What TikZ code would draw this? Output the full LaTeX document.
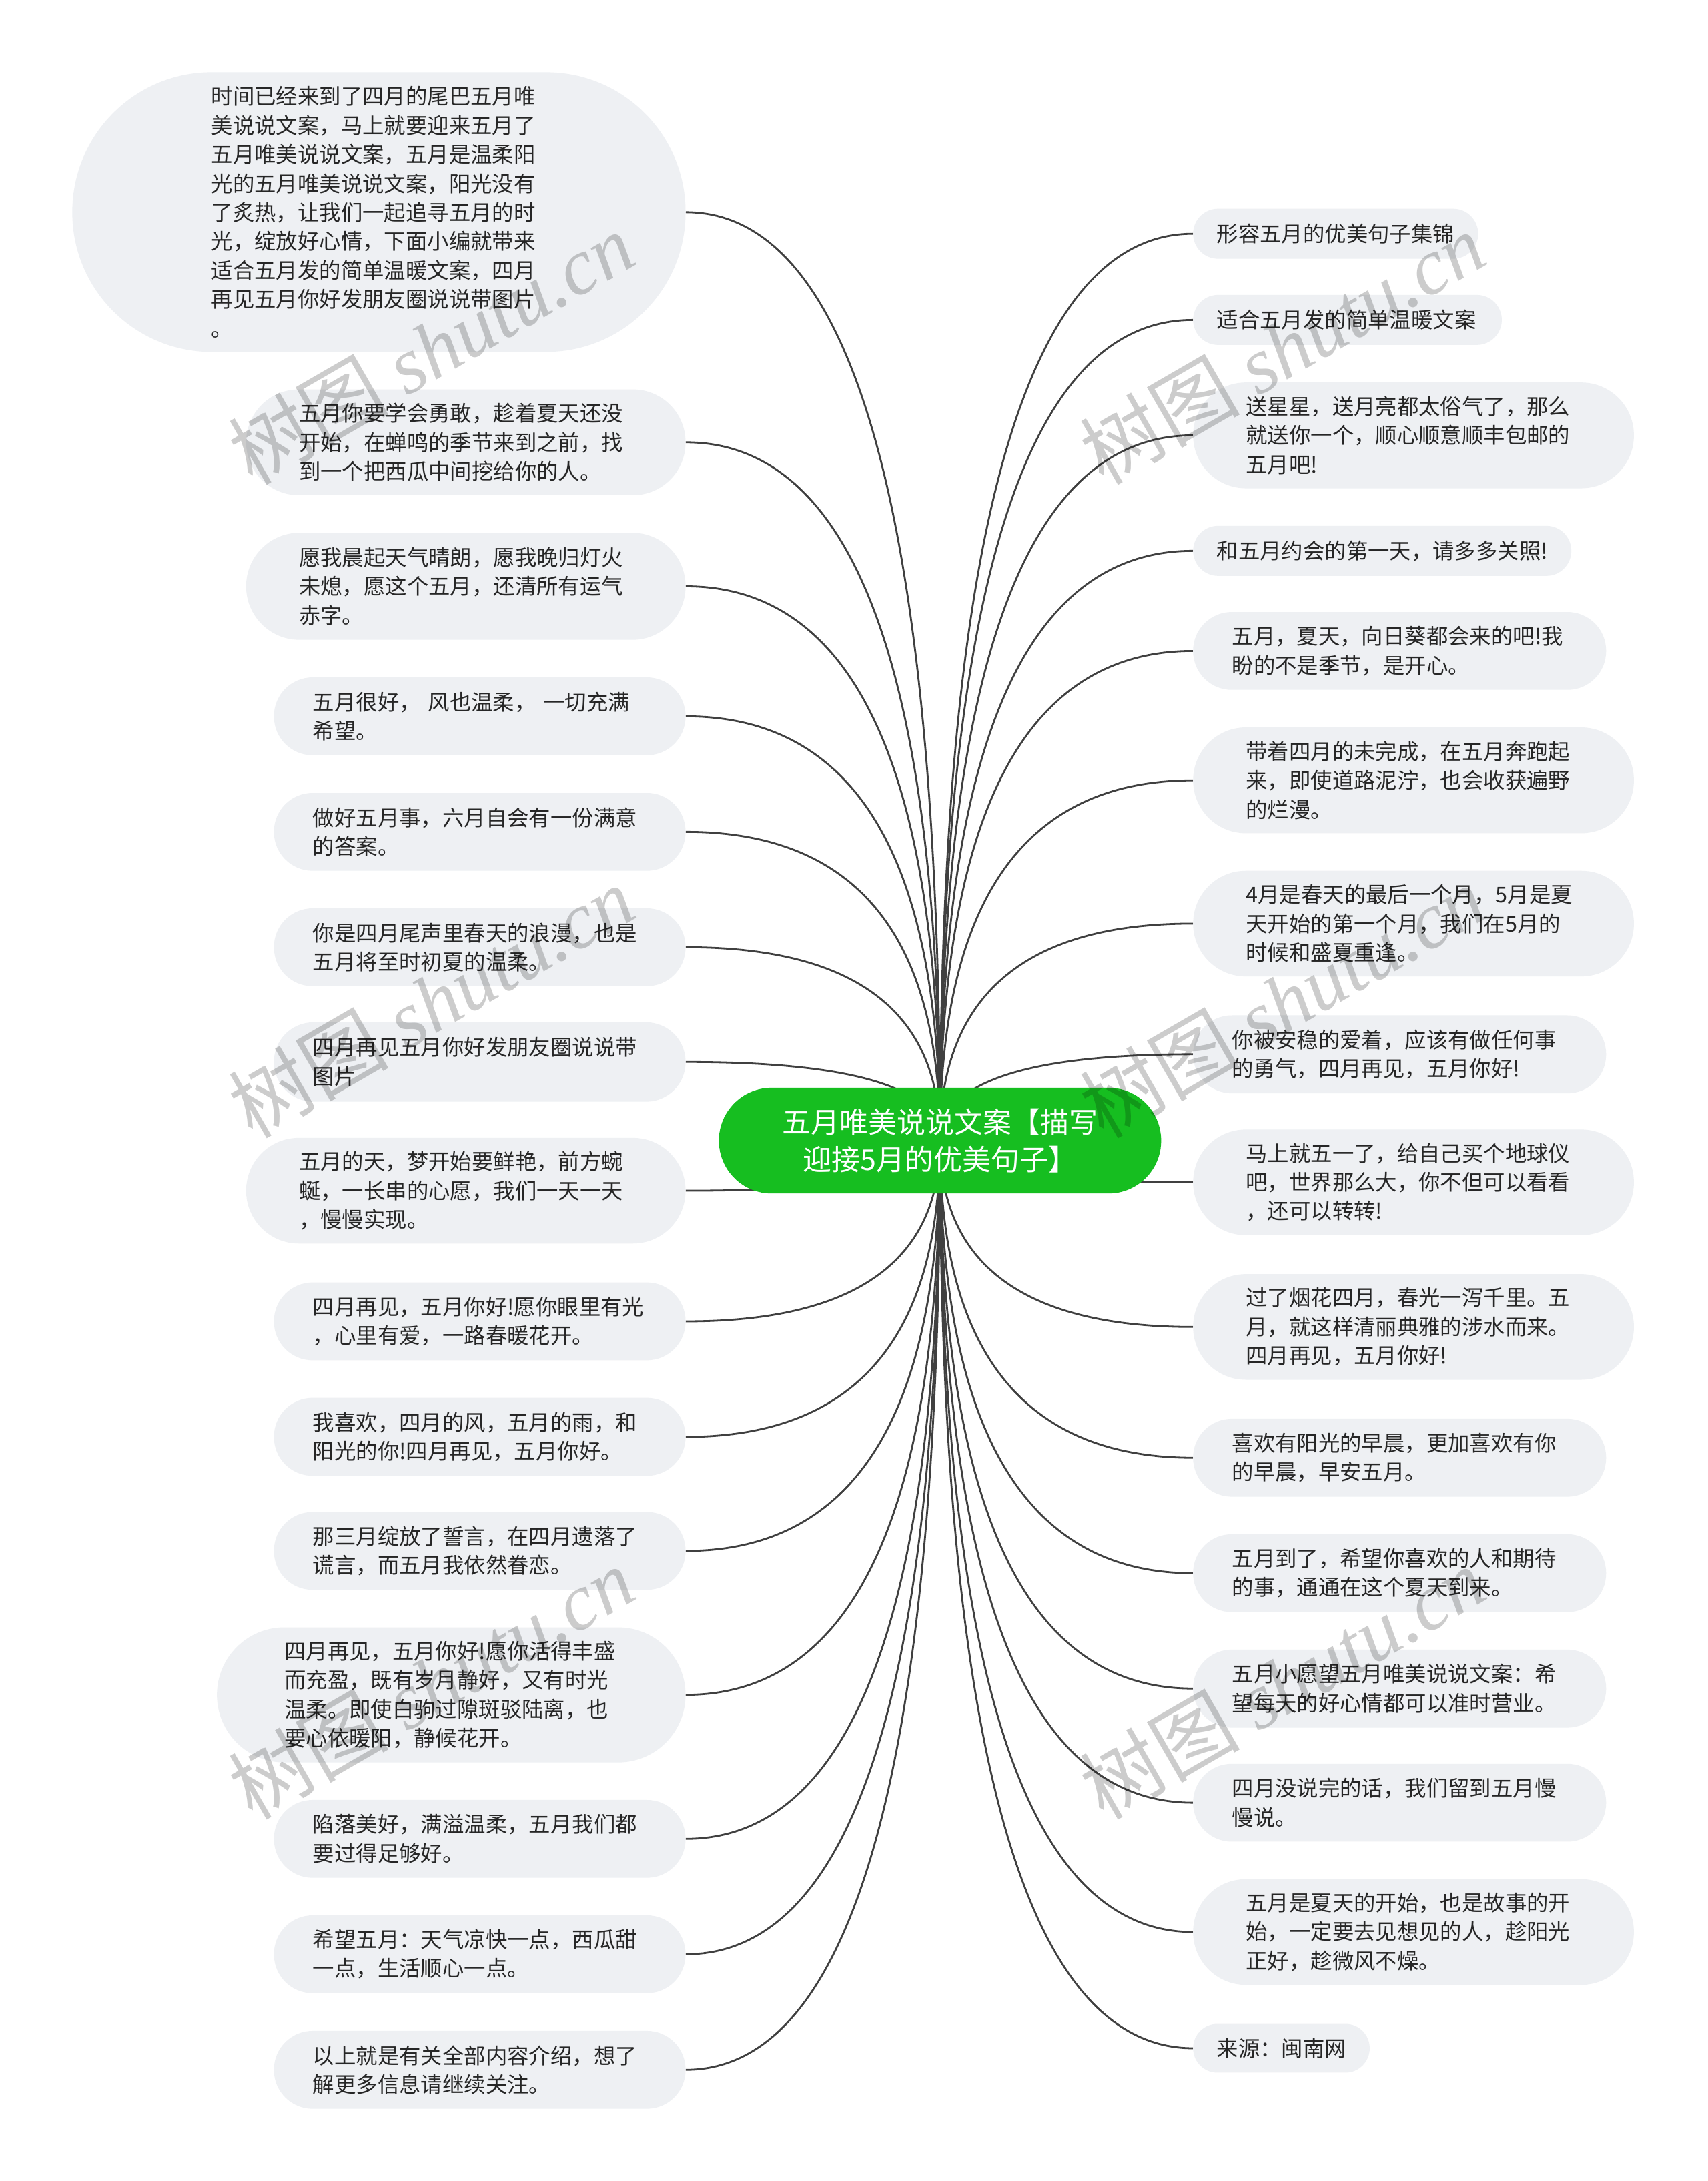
\documentclass[tikz,border=0pt]{standalone}
\usepackage{fontspec}
\setmainfont{Noto Sans CJK SC}
\newfontfamily\wmlatin{Liberation Serif}
\usetikzlibrary{calc}
\definecolor{leaffill}{HTML}{EEF0F3}
\definecolor{hubgreen}{HTML}{16BE20}
\definecolor{linkgray}{HTML}{404040}
\definecolor{leaftext}{HTML}{262626}
\pgfdeclarelayer{bglayer}
\pgfdeclarelayer{fglayer}
\pgfsetlayers{bglayer,main,fglayer}
\newcommand\linkto[2]{\draw[conn] (C.center) .. controls ($(C.center)!0.6667!(C.center |- #1.#2)$) and ($(#1.#2)!0.6667!(C.center |- #1.#2)$) .. (#1.#2);}
\tikzset{
  leafbase/.style={fill=leaffill, text=leaftext, inner sep=0pt, align=left, font={\fontsize{32.4pt}{43.4pt}\selectfont}},
  leaf/.style n args={4}{leafbase, minimum width=#1pt, minimum height=#2pt, text width=#3pt, rounded corners=#4pt},
  hub/.style={fill=hubgreen, text=white, inner sep=0pt, align=center, minimum width=663pt, minimum height=158.4pt, rounded corners=79pt, font={\fontsize{43pt}{56pt}\selectfont}},
  conn/.style={draw=linkgray, line width=2.8pt},
  wm/.style={rotate=30, text=black, text opacity=0.2, inner sep=0pt, font={\fontsize{120pt}{120pt}\selectfont}}
}
\begin{document}
\begin{tikzpicture}[x=2.0847pt, y=-2.0847pt]
\begin{pgfonlayer}{bglayer}
\fill[white] (0,0) rectangle (1228,1568);
\end{pgfonlayer}
\useasboundingbox (0,0) rectangle (1228,1568);

\node[hub] (C) at (676,820) {五月唯美说说文案【描写\\迎接5月的优美句子】};

% left column
\node[leaf={919.4}{419}{502.4}{209}] (L1) at (272.5,152.5) {时间已经来到了四月的尾巴五月唯\\美说说文案，马上就要迎来五月了\\五月唯美说说文案，五月是温柔阳\\光的五月唯美说说文案，阳光没有\\了炙热，让我们一起追寻五月的时\\光，绽放好心情，下面小编就带来\\适合五月发的简单温暖文案，四月\\再见五月你好发朋友圈说说带图片\\。};
\node[leaf={658.8}{158.4}{500.3}{79}] (L2) at (335,318) {五月你要学会勇敢，趁着夏天还没\\开始，在蝉鸣的季节来到之前，找\\到一个把西瓜中间挖给你的人。};
\node[leaf={658.8}{160.5}{500.3}{80}] (L3) at (335,421.5) {愿我晨起天气晴朗，愿我晚归灯火\\未熄，愿这个五月，还清所有运气\\赤字。};
\node[leaf={617.1}{116.7}{500.3}{58}] (L4) at (345,515) {五月很好， 风也温柔， 一切充满\\希望。};
\node[leaf={617.1}{116.7}{500.3}{58}] (L5) at (345,598) {做好五月事，六月自会有一份满意\\的答案。};
\node[leaf={617.1}{116.7}{500.3}{58}] (L6) at (345,681) {你是四月尾声里春天的浪漫，也是\\五月将至时初夏的温柔。};
\node[leaf={617.1}{118.8}{500.3}{59}] (L7) at (345,763.5) {四月再见五月你好发朋友圈说说带\\图片};
\node[leaf={658.8}{158.4}{500.3}{79}] (L8) at (335,856) {五月的天，梦开始要鲜艳，前方蜿\\蜒，一长串的心愿，我们一天一天\\，慢慢实现。};
\node[leaf={617.1}{116.7}{500.3}{58}] (L9) at (345,950) {四月再见，五月你好!愿你眼里有光\\，心里有爱，一路春暖花开。};
\node[leaf={617.1}{116.7}{500.3}{58}] (L10) at (345,1033) {我喜欢，四月的风，五月的雨，和\\阳光的你!四月再见，五月你好。};
\node[leaf={617.1}{116.7}{500.3}{58}] (L11) at (345,1115) {那三月绽放了誓言，在四月遗落了\\谎言，而五月我依然眷恋。};
\node[leaf={702.5}{202.2}{500.3}{101}] (L12) at (324.5,1218.5) {四月再见，五月你好!愿你活得丰盛\\而充盈，既有岁月静好，又有时光\\温柔。即使白驹过隙斑驳陆离，也\\要心依暖阳，静候花开。};
\node[leaf={617.1}{116.7}{500.3}{58}] (L13) at (345,1322) {陷落美好，满溢温柔，五月我们都\\要过得足够好。};
\node[leaf={617.1}{116.7}{500.3}{58}] (L14) at (345,1405) {希望五月：天气凉快一点，西瓜甜\\一点，生活顺心一点。};
\node[leaf={617.1}{116.7}{500.3}{58}] (L15) at (345,1488) {以上就是有关全部内容介绍，想了\\解更多信息请继续关注。};

% right column
\node[leaf={427.4}{75}{356.5}{37.5}] (R1) at (960.5,168) {形容五月的优美句子集锦};
\node[leaf={462.8}{75}{391.9}{37.5}] (R2) at (969,230) {适合五月发的简单温暖文案};
\node[leaf={660.8}{158.4}{502.4}{79}] (R3) at (1016.5,313) {送星星，送月亮都太俗气了，那么\\就送你一个，顺心顺意顺丰包邮的\\五月吧!};
\node[leaf={567}{75}{496.2}{37.5}] (R4) at (994,396) {和五月约会的第一天，请多多关照!};
\node[leaf={619.2}{116.7}{502.4}{58}] (R5) at (1006.5,468) {五月，夏天，向日葵都会来的吧!我\\盼的不是季节，是开心。};
\node[leaf={660.8}{158.4}{502.4}{79}] (R6) at (1016.5,561) {带着四月的未完成，在五月奔跑起\\来，即使道路泥泞，也会收获遍野\\的烂漫。};
\node[leaf={660.8}{158.4}{502.4}{79}] (R7) at (1016.5,664) {4月是春天的最后一个月，5月是夏\\天开始的第一个月，我们在5月的\\时候和盛夏重逢。};
\node[leaf={619.2}{116.7}{502.4}{58}] (R8) at (1006.5,758) {你被安稳的爱着，应该有做任何事\\的勇气，四月再见，五月你好!};
\node[leaf={660.8}{158.4}{502.4}{79}] (R9) at (1016.5,850) {马上就五一了，给自己买个地球仪\\吧，世界那么大，你不但可以看看\\，还可以转转!};
\node[leaf={660.8}{158.4}{502.4}{79}] (R10) at (1016.5,954) {过了烟花四月，春光一泻千里。五\\月，就这样清丽典雅的涉水而来。\\四月再见，五月你好!};
\node[leaf={619.2}{116.7}{502.4}{58}] (R11) at (1006.5,1048) {喜欢有阳光的早晨，更加喜欢有你\\的早晨，早安五月。};
\node[leaf={619.2}{116.7}{502.4}{58}] (R12) at (1006.5,1131) {五月到了，希望你喜欢的人和期待\\的事，通通在这个夏天到来。};
\node[leaf={619.2}{116.7}{502.4}{58}] (R13) at (1006.5,1214) {五月小愿望五月唯美说说文案：希\\望每天的好心情都可以准时营业。};
\node[leaf={619.2}{116.7}{502.4}{58}] (R14) at (1006.5,1296) {四月没说完的话，我们留到五月慢\\慢说。};
\node[leaf={660.8}{158.4}{502.4}{79}] (R15) at (1016.5,1389) {五月是夏天的开始，也是故事的开\\始，一定要去见想见的人，趁阳光\\正好，趁微风不燥。};
\node[leaf={264.8}{73}{193.9}{36.5}] (R16) at (921.5,1472.5) {来源：闽南网};

\begin{pgfonlayer}{bglayer}
\foreach \i in {1,...,15} {\linkto{L\i}{east}}
\foreach \i in {1,...,16} {\linkto{R\i}{west}}
\end{pgfonlayer}

\begin{pgfonlayer}{fglayer}
\node[wm] (W1) at (310,250) {树图 {\wmlatin\itshape shutu.cn}};
\node[wm] (W2) at (922,250) {树图 {\wmlatin\itshape shutu.cn}};
\node[wm] (W3) at (310,720) {树图 {\wmlatin\itshape shutu.cn}};
\node[wm] (W4) at (922,720) {树图 {\wmlatin\itshape shutu.cn}};
\node[wm] (W5) at (310,1210) {树图 {\wmlatin\itshape shutu.cn}};
\node[wm] (W6) at (922,1210) {树图 {\wmlatin\itshape shutu.cn}};
\end{pgfonlayer}
\end{tikzpicture}
\end{document}
